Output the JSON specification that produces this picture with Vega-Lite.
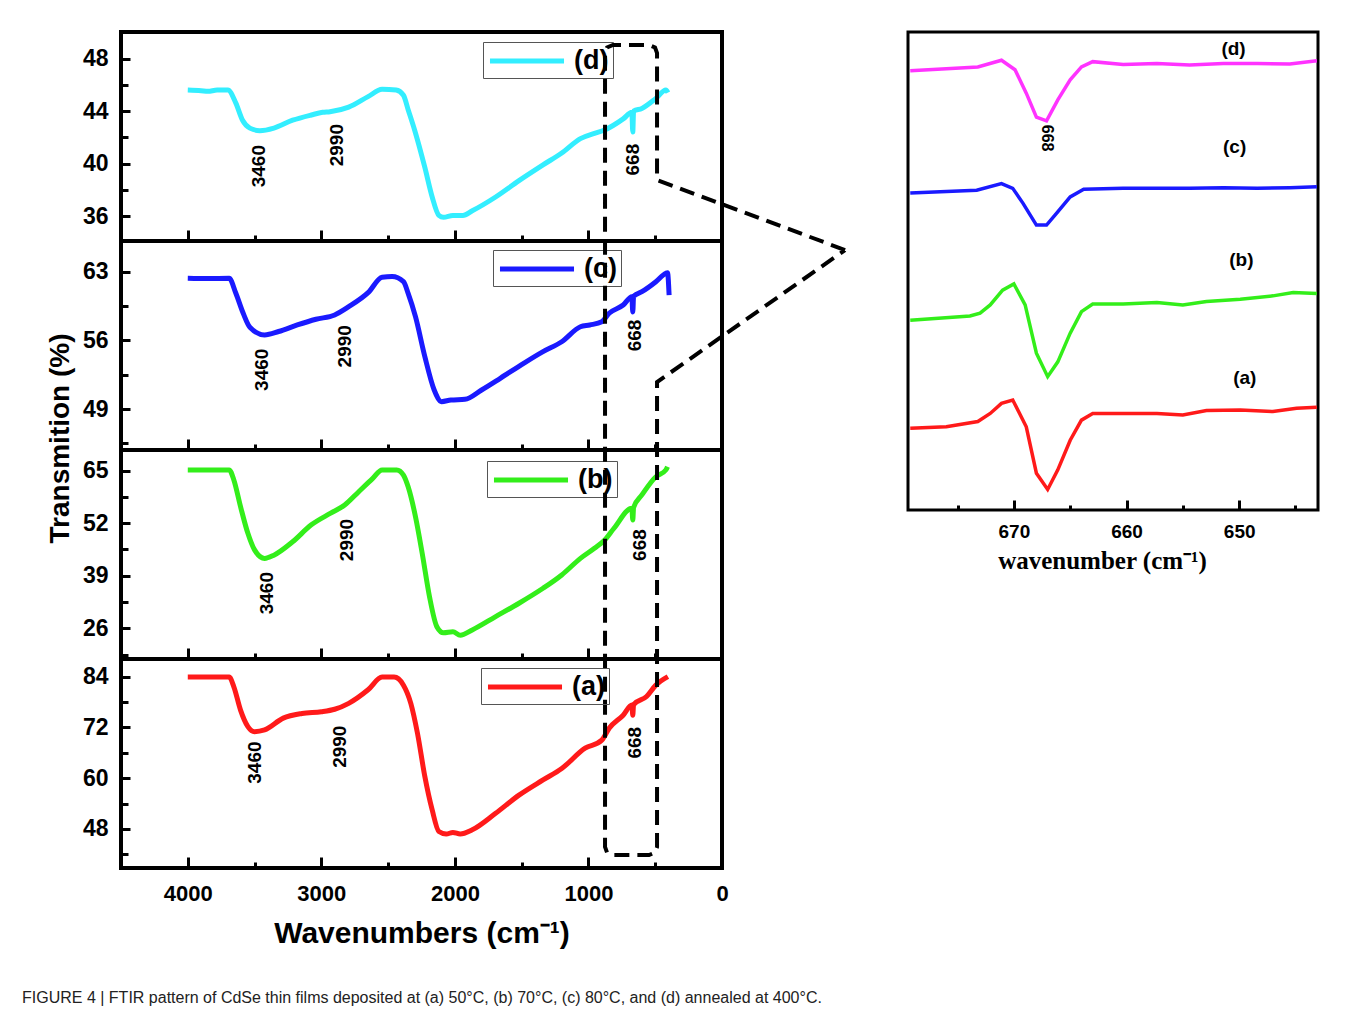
{
  "$schema": "https://vega.github.io/schema/vega-lite/v6.json",
  "background": "white",
  "padding": {"left": 22, "top": 30, "right": 20, "bottom": 10},
  "title": {"text": "FIGURE 4 | FTIR pattern of CdSe thin films deposited at (a) 50°C, (b) 70°C, (c) 80°C, and (d) annealed at 400°C.", "orient": "bottom", "anchor": "start", "frame": "bounds", "font": "Liberation Sans", "fontSize": 16, "fontWeight": "normal", "color": "#222", "offset": 40, "dx": -22},
  "datasets": {
    "d": [
      {"s":"(d)","w":4000,"t":45.6},{"s":"(d)","w":3900,"t":45.55},{"s":"(d)","w":3850,"t":45.5},{"s":"(d)","w":3780,"t":45.6},{"s":"(d)","w":3700,"t":45.6},{"s":"(d)","w":3640,"t":44.6},{"s":"(d)","w":3590,"t":43.3},{"s":"(d)","w":3535,"t":42.7},{"s":"(d)","w":3460,"t":42.5},{"s":"(d)","w":3355,"t":42.7},{"s":"(d)","w":3215,"t":43.3},{"s":"(d)","w":3075,"t":43.7},{"s":"(d)","w":2990,"t":43.9},{"s":"(d)","w":2935,"t":43.95},{"s":"(d)","w":2795,"t":44.3},{"s":"(d)","w":2650,"t":45.1},{"s":"(d)","w":2545,"t":45.65},{"s":"(d)","w":2440,"t":45.6},{"s":"(d)","w":2385,"t":45.2},{"s":"(d)","w":2350,"t":44.1},{"s":"(d)","w":2300,"t":42.5},{"s":"(d)","w":2225,"t":39.7},{"s":"(d)","w":2170,"t":37.45},{"s":"(d)","w":2120,"t":36.05},{"s":"(d)","w":2085,"t":35.9},{"s":"(d)","w":2015,"t":36.05},{"s":"(d)","w":1940,"t":36.05},{"s":"(d)","w":1870,"t":36.4},{"s":"(d)","w":1695,"t":37.45},{"s":"(d)","w":1520,"t":38.7},{"s":"(d)","w":1340,"t":39.9},{"s":"(d)","w":1200,"t":40.8},{"s":"(d)","w":1060,"t":41.9},{"s":"(d)","w":955,"t":42.3},{"s":"(d)","w":880,"t":42.55},{"s":"(d)","w":740,"t":43.4},{"s":"(d)","w":675,"t":43.9},{"s":"(d)","w":668,"t":42.4},{"s":"(d)","w":662,"t":44.0},{"s":"(d)","w":600,"t":44.2},{"s":"(d)","w":495,"t":44.96},{"s":"(d)","w":420,"t":45.6},{"s":"(d)","w":405,"t":45.4}
    ],
    "c": [
      {"s":"(c)","w":4000,"t":62.33},{"s":"(c)","w":3850,"t":62.3},{"s":"(c)","w":3690,"t":62.33},{"s":"(c)","w":3640,"t":60.8},{"s":"(c)","w":3585,"t":58.76},{"s":"(c)","w":3535,"t":57.33},{"s":"(c)","w":3425,"t":56.55},{"s":"(c)","w":3320,"t":56.9},{"s":"(c)","w":3180,"t":57.57},{"s":"(c)","w":3040,"t":58.15},{"s":"(c)","w":2900,"t":58.59},{"s":"(c)","w":2795,"t":59.43},{"s":"(c)","w":2650,"t":60.86},{"s":"(c)","w":2545,"t":62.43},{"s":"(c)","w":2470,"t":62.5},{"s":"(c)","w":2385,"t":61.98},{"s":"(c)","w":2350,"t":60.8},{"s":"(c)","w":2295,"t":58.41},{"s":"(c)","w":2225,"t":54.34},{"s":"(c)","w":2155,"t":50.94},{"s":"(c)","w":2100,"t":49.75},{"s":"(c)","w":2030,"t":49.92},{"s":"(c)","w":1925,"t":49.99},{"s":"(c)","w":1800,"t":50.94},{"s":"(c)","w":1660,"t":52.13},{"s":"(c)","w":1485,"t":53.66},{"s":"(c)","w":1340,"t":54.85},{"s":"(c)","w":1200,"t":55.86},{"s":"(c)","w":1060,"t":57.39},{"s":"(c)","w":990,"t":57.57},{"s":"(c)","w":900,"t":57.9},{"s":"(c)","w":845,"t":58.76},{"s":"(c)","w":740,"t":59.6},{"s":"(c)","w":675,"t":60.45},{"s":"(c)","w":668,"t":58.9},{"s":"(c)","w":662,"t":60.5},{"s":"(c)","w":600,"t":60.96},{"s":"(c)","w":495,"t":61.98},{"s":"(c)","w":420,"t":62.84},{"s":"(c)","w":408,"t":62.9},{"s":"(c)","w":396,"t":60.6}
    ],
    "b": [
      {"s":"(b)","w":4000,"t":65.2},{"s":"(b)","w":3850,"t":65.2},{"s":"(b)","w":3690,"t":65.2},{"s":"(b)","w":3655,"t":62.7},{"s":"(b)","w":3605,"t":56.1},{"s":"(b)","w":3550,"t":49.5},{"s":"(b)","w":3500,"t":45.4},{"s":"(b)","w":3425,"t":43.3},{"s":"(b)","w":3355,"t":44.1},{"s":"(b)","w":3215,"t":47.4},{"s":"(b)","w":3075,"t":51.6},{"s":"(b)","w":2930,"t":54.5},{"s":"(b)","w":2825,"t":56.5},{"s":"(b)","w":2720,"t":59.8},{"s":"(b)","w":2615,"t":63.1},{"s":"(b)","w":2545,"t":65.2},{"s":"(b)","w":2435,"t":65.2},{"s":"(b)","w":2385,"t":63.9},{"s":"(b)","w":2350,"t":61},{"s":"(b)","w":2295,"t":53.6},{"s":"(b)","w":2245,"t":44.6},{"s":"(b)","w":2190,"t":33.8},{"s":"(b)","w":2135,"t":26.4},{"s":"(b)","w":2085,"t":24.9},{"s":"(b)","w":2015,"t":25.15},{"s":"(b)","w":1960,"t":24.3},{"s":"(b)","w":1870,"t":25.6},{"s":"(b)","w":1695,"t":28.9},{"s":"(b)","w":1520,"t":32.2},{"s":"(b)","w":1340,"t":35.9},{"s":"(b)","w":1200,"t":39.2},{"s":"(b)","w":1060,"t":43.3},{"s":"(b)","w":955,"t":45.8},{"s":"(b)","w":880,"t":47.8},{"s":"(b)","w":810,"t":50.7},{"s":"(b)","w":675,"t":55.7},{"s":"(b)","w":668,"t":52.8},{"s":"(b)","w":662,"t":55.9},{"s":"(b)","w":600,"t":59},{"s":"(b)","w":495,"t":63.5},{"s":"(b)","w":420,"t":65.2},{"s":"(b)","w":408,"t":66}
    ],
    "a": [
      {"s":"(a)","w":4000,"t":83.9},{"s":"(a)","w":3850,"t":83.9},{"s":"(a)","w":3690,"t":83.9},{"s":"(a)","w":3655,"t":81.6},{"s":"(a)","w":3605,"t":76.1},{"s":"(a)","w":3550,"t":72.2},{"s":"(a)","w":3500,"t":71},{"s":"(a)","w":3425,"t":71.4},{"s":"(a)","w":3285,"t":74.2},{"s":"(a)","w":3145,"t":75.3},{"s":"(a)","w":3000,"t":75.7},{"s":"(a)","w":2900,"t":76.3},{"s":"(a)","w":2795,"t":77.7},{"s":"(a)","w":2650,"t":80.9},{"s":"(a)","w":2545,"t":83.9},{"s":"(a)","w":2455,"t":83.9},{"s":"(a)","w":2385,"t":82},{"s":"(a)","w":2330,"t":77.7},{"s":"(a)","w":2280,"t":70.6},{"s":"(a)","w":2225,"t":60.4},{"s":"(a)","w":2170,"t":52.5},{"s":"(a)","w":2120,"t":47.4},{"s":"(a)","w":2065,"t":46.8},{"s":"(a)","w":2015,"t":47.2},{"s":"(a)","w":1960,"t":46.8},{"s":"(a)","w":1870,"t":47.8},{"s":"(a)","w":1695,"t":51.7},{"s":"(a)","w":1520,"t":56},{"s":"(a)","w":1340,"t":59.6},{"s":"(a)","w":1200,"t":62.3},{"s":"(a)","w":1025,"t":67.1},{"s":"(a)","w":900,"t":69},{"s":"(a)","w":845,"t":71.8},{"s":"(a)","w":740,"t":74.9},{"s":"(a)","w":675,"t":77.3},{"s":"(a)","w":668,"t":74.9},{"s":"(a)","w":662,"t":77.4},{"s":"(a)","w":565,"t":79.3},{"s":"(a)","w":495,"t":82},{"s":"(a)","w":405,"t":84}
    ],
    "ann": [
      {"p":"d","txt":"3460","w":3469,"t":39.8},{"p":"d","txt":"2990","w":2879,"t":41.4},{"p":"d","txt":"668","w":670,"t":40.3},
      {"p":"c","txt":"3460","w":3444,"t":53.0},{"p":"c","txt":"2990","w":2826,"t":55.4},{"p":"c","txt":"668","w":652,"t":56.5},
      {"p":"b","txt":"3460","w":3409,"t":34.7},{"p":"b","txt":"2990","w":2808,"t":47.85},{"p":"b","txt":"668","w":617,"t":46.6},
      {"p":"a","txt":"3460","w":3498,"t":63.7},{"p":"a","txt":"2990","w":2861,"t":67.45},{"p":"a","txt":"668","w":652,"t":68.4}
    ],
    "box": [
      {"i":0,"w":-921.3,"t":184.85},{"i":1,"w":486.4,"t":201.4},{"i":2,"w":486.4,"t":231.42},{"i":3,"w":501.4,"t":232.71},{"i":4,"w":546.3,"t":233.31},{"i":5,"w":815.9,"t":233.31},{"i":6,"w":860.8,"t":232.71},{"i":7,"w":875.8,"t":231.42},{"i":8,"w":875.8,"t":43.74},{"i":9,"w":860.8,"t":42.44},{"i":10,"w":815.9,"t":41.85},{"i":11,"w":546.3,"t":41.85},{"i":12,"w":501.4,"t":42.44},{"i":13,"w":486.4,"t":43.74},{"i":14,"w":486.4,"t":153.65},{"i":15,"w":-921.3,"t":184.85}
    ],
    "inset": [
      {"s":"(d)","w":679.2,"v":91.9},{"s":"(d)","w":673.2,"v":92.7},{"s":"(d)","w":671.1,"v":94.1},{"s":"(d)","w":669.9,"v":92.1},{"s":"(d)","w":668.9,"v":87.2},{"s":"(d)","w":668.0,"v":82.2},{"s":"(d)","w":667.1,"v":81.4},{"s":"(d)","w":666.1,"v":85.8},{"s":"(d)","w":665.0,"v":90.0},{"s":"(d)","w":664.0,"v":92.7},{"s":"(d)","w":663.0,"v":93.8},{"s":"(d)","w":660.3,"v":93.2},{"s":"(d)","w":657.3,"v":93.4},{"s":"(d)","w":654.4,"v":93.1},{"s":"(d)","w":651.4,"v":93.4},{"s":"(d)","w":648.4,"v":93.4},{"s":"(d)","w":645.5,"v":93.3},{"s":"(d)","w":643.1,"v":94.0},
      {"s":"(c)","w":679.2,"v":66.3},{"s":"(c)","w":673.3,"v":66.9},{"s":"(c)","w":671.1,"v":68.3},{"s":"(c)","w":670.1,"v":67.3},{"s":"(c)","w":669.2,"v":64.2},{"s":"(c)","w":668.0,"v":59.6},{"s":"(c)","w":667.1,"v":59.6},{"s":"(c)","w":666.2,"v":62.1},{"s":"(c)","w":665.0,"v":65.5},{"s":"(c)","w":663.8,"v":67.1},{"s":"(c)","w":660.3,"v":67.3},{"s":"(c)","w":657.3,"v":67.3},{"s":"(c)","w":654.4,"v":67.3},{"s":"(c)","w":651.4,"v":67.4},{"s":"(c)","w":648.4,"v":67.3},{"s":"(c)","w":645.5,"v":67.4},{"s":"(c)","w":643.1,"v":67.6},
      {"s":"(b)","w":679.2,"v":39.7},{"s":"(b)","w":673.9,"v":40.6},{"s":"(b)","w":673.0,"v":41.2},{"s":"(b)","w":672.1,"v":42.9},{"s":"(b)","w":671.0,"v":46.0},{"s":"(b)","w":670.0,"v":47.3},{"s":"(b)","w":669.0,"v":42.9},{"s":"(b)","w":668.0,"v":32.8},{"s":"(b)","w":667.0,"v":27.9},{"s":"(b)","w":666.1,"v":31.0},{"s":"(b)","w":665.0,"v":37.0},{"s":"(b)","w":664.0,"v":41.5},{"s":"(b)","w":663.0,"v":43.1},{"s":"(b)","w":660.3,"v":43.1},{"s":"(b)","w":657.3,"v":43.4},{"s":"(b)","w":655.0,"v":42.9},{"s":"(b)","w":652.9,"v":43.6},{"s":"(b)","w":649.9,"v":44.1},{"s":"(b)","w":647.0,"v":44.8},{"s":"(b)","w":645.2,"v":45.5},{"s":"(b)","w":643.1,"v":45.3},
      {"s":"(a)","w":679.2,"v":17.1},{"s":"(a)","w":676.0,"v":17.4},{"s":"(a)","w":673.2,"v":18.5},{"s":"(a)","w":672.1,"v":20.2},{"s":"(a)","w":671.1,"v":22.3},{"s":"(a)","w":670.1,"v":23.0},{"s":"(a)","w":668.9,"v":17.4},{"s":"(a)","w":668.0,"v":7.7},{"s":"(a)","w":667.0,"v":4.3},{"s":"(a)","w":666.1,"v":8.4},{"s":"(a)","w":665.0,"v":14.6},{"s":"(a)","w":664.0,"v":18.8},{"s":"(a)","w":663.0,"v":20.2},{"s":"(a)","w":660.3,"v":20.2},{"s":"(a)","w":657.3,"v":20.2},{"s":"(a)","w":655.0,"v":19.9},{"s":"(a)","w":652.9,"v":20.8},{"s":"(a)","w":649.9,"v":20.9},{"s":"(a)","w":647.0,"v":20.6},{"s":"(a)","w":644.9,"v":21.3},{"s":"(a)","w":643.1,"v":21.5}
    ],
    "insetlab": [
      {"txt":"(d)","w":650.5,"v":96.4,"r":0},{"txt":"(c)","w":650.4,"v":75.9,"r":0},{"txt":"(b)","w":649.8,"v":52.3,"r":0},{"txt":"(a)","w":649.5,"v":27.6,"r":0},{"txt":"668","w":667.1,"v":77.8,"r":90}
    ]
  },
  "hconcat": [
    {
      "spacing": 0,
      "bounds": "flush",
      "resolve": {"scale": {"color": "independent"}, "legend": {"color": "independent"}},
      "vconcat": [
        {
          "width": 601, "height": 209,
          "layer": [
            {"data": {"name": "d"}, "mark": {"type": "line", "strokeWidth": 5, "interpolate": "monotone"},
             "encoding": {
               "x": {"field": "w", "type": "quantitative", "scale": {"domain": [4500, 0], "nice": false, "zero": false},
                     "axis": {"values": [4500,4000,3500,3000,2500,2000,1500,1000,500,0], "tickCount": 50, "labels": false, "title": null, "tickSize": {"condition": {"test": "datum.value % 1000 === 0", "value": -11}, "value": -6}, "tickWidth": 3}},
               "y": {"field": "t", "type": "quantitative", "scale": {"domain": [34.1, 50.02], "nice": false, "zero": false},
                     "axis": {"values": [36,38,40,42,44,46,48], "tickCount": 50, "format": "d", "labelExpr": "datum.value % 4 === 0 ? datum.label : ''", "labelOverlap": false, "labelPadding": 22, "labelFontSize": 23, "tickSize": {"condition": {"test": "datum.value % 4 === 0", "value": -9}, "value": -7}, "tickWidth": 3, "title": null}},
               "color": {"field": "s", "type": "nominal", "scale": {"domain": ["(d)"], "range": ["#33eeff"]},
                         "legend": {"orient": "none", "legendX": 362, "legendY": 10}}
             }},
            {"data": {"name": "ann"}, "transform": [{"filter": "datum.p === 'd'"}],
             "mark": {"type": "text", "angle": 270, "fontSize": 19, "fontWeight": "bold", "color": "black"},
             "encoding": {"x": {"field": "w", "type": "quantitative"}, "y": {"field": "t", "type": "quantitative"}, "text": {"field": "txt", "type": "nominal"}}}
          ]
        },
        {
          "width": 601, "height": 209,
          "layer": [
            {"data": {"name": "c"}, "mark": {"type": "line", "strokeWidth": 5, "interpolate": "monotone"},
             "encoding": {
               "x": {"field": "w", "type": "quantitative", "scale": {"domain": [4500, 0], "nice": false, "zero": false},
                     "axis": {"values": [4500,4000,3500,3000,2500,2000,1500,1000,500,0], "tickCount": 50, "labels": false, "title": null, "tickSize": {"condition": {"test": "datum.value % 1000 === 0", "value": -11}, "value": -6}, "tickWidth": 3}},
               "y": {"field": "t", "type": "quantitative", "scale": {"domain": [44.82, 66.13], "nice": false, "zero": false},
                     "axis": {"values": [45.5,49,52.5,56,59.5,63], "tickCount": 50, "format": "d", "labelExpr": "(datum.value - 49) % 7 === 0 ? datum.label : ''", "labelOverlap": false, "labelPadding": 22, "labelFontSize": 23, "tickSize": {"condition": {"test": "(datum.value - 49) % 7 === 0", "value": -9}, "value": -7}, "tickWidth": 3,
                              "title": "Transmition (%)", "titleFontSize": 28, "titleFontWeight": "bold", "titleX": -47, "titleY": 197}},
               "color": {"field": "s", "type": "nominal", "scale": {"domain": ["(c)"], "range": ["#1a1aff"]},
                         "legend": {"orient": "none", "legendX": 372, "legendY": 9}}
             }},
            {"data": {"name": "ann"}, "transform": [{"filter": "datum.p === 'c'"}],
             "mark": {"type": "text", "angle": 270, "fontSize": 19, "fontWeight": "bold", "color": "black"},
             "encoding": {"x": {"field": "w", "type": "quantitative"}, "y": {"field": "t", "type": "quantitative"}, "text": {"field": "txt", "type": "nominal"}}}
          ]
        },
        {
          "width": 601, "height": 209,
          "layer": [
            {"data": {"name": "b"}, "mark": {"type": "line", "strokeWidth": 5, "interpolate": "monotone"},
             "encoding": {
               "x": {"field": "w", "type": "quantitative", "scale": {"domain": [4500, 0], "nice": false, "zero": false},
                     "axis": {"values": [4500,4000,3500,3000,2500,2000,1500,1000,500,0], "tickCount": 50, "labels": false, "title": null, "tickSize": {"condition": {"test": "datum.value % 1000 === 0", "value": -11}, "value": -6}, "tickWidth": 3}},
               "y": {"field": "t", "type": "quantitative", "scale": {"domain": [18.4, 70.12], "nice": false, "zero": false},
                     "axis": {"values": [19.5,26,32.5,39,45.5,52,58.5,65], "tickCount": 50, "format": "d", "labelExpr": "(datum.value - 26) % 13 === 0 ? datum.label : ''", "labelOverlap": false, "labelPadding": 22, "labelFontSize": 23, "tickSize": {"condition": {"test": "(datum.value - 26) % 13 === 0", "value": -9}, "value": -7}, "tickWidth": 3, "title": null}},
               "color": {"field": "s", "type": "nominal", "scale": {"domain": ["(b)"], "range": ["#33ee1a"]},
                         "legend": {"orient": "none", "legendX": 366, "legendY": 11}}
             }},
            {"data": {"name": "ann"}, "transform": [{"filter": "datum.p === 'b'"}],
             "mark": {"type": "text", "angle": 270, "fontSize": 19, "fontWeight": "bold", "color": "black"},
             "encoding": {"x": {"field": "w", "type": "quantitative"}, "y": {"field": "t", "type": "quantitative"}, "text": {"field": "txt", "type": "nominal"}}}
          ]
        },
        {
          "width": 601, "height": 209,
          "layer": [
            {"data": {"name": "a"}, "mark": {"type": "line", "strokeWidth": 5, "interpolate": "monotone"},
             "encoding": {
               "x": {"field": "w", "type": "quantitative", "scale": {"domain": [4500, 0], "nice": false, "zero": false},
                     "axis": {"values": [4500,4000,3500,3000,2500,2000,1500,1000,500,0], "tickCount": 50, "format": "d", "labelExpr": "datum.value % 1000 === 0 ? datum.label : ''", "tickSize": {"condition": {"test": "datum.value % 1000 === 0", "value": -11}, "value": -6}, "tickWidth": 3,
                              "labelFontSize": 22, "labelFontWeight": "bold", "labelPadding": 26, "labelFlush": false, "labelOverlap": false,
                              "title": "Wavenumbers (cm⁻¹)", "titleFontSize": 30, "titleFontWeight": "bold", "titlePadding": 9}},
               "y": {"field": "t", "type": "quantitative", "scale": {"domain": [38.78, 88.18], "nice": false, "zero": false},
                     "axis": {"values": [42,48,54,60,66,72,78,84], "tickCount": 50, "format": "d", "labelExpr": "datum.value % 12 === 0 ? datum.label : ''", "labelOverlap": false, "labelPadding": 22, "labelFontSize": 23, "tickSize": {"condition": {"test": "datum.value % 12 === 0", "value": -9}, "value": -7}, "tickWidth": 3, "title": null}},
               "color": {"field": "s", "type": "nominal", "scale": {"domain": ["(a)"], "range": ["#ff1a1a"]},
                         "legend": {"orient": "none", "legendX": 360, "legendY": 9}}
             }},
            {"data": {"name": "ann"}, "transform": [{"filter": "datum.p === 'a'"}],
             "mark": {"type": "text", "angle": 270, "fontSize": 19, "fontWeight": "bold", "color": "black"},
             "encoding": {"x": {"field": "w", "type": "quantitative"}, "y": {"field": "t", "type": "quantitative"}, "text": {"field": "txt", "type": "nominal"}}},
            {"data": {"name": "box"},
             "mark": {"type": "line", "color": "black", "strokeWidth": 4, "strokeDash": [15, 8], "clip": false},
             "encoding": {"x": {"field": "w", "type": "quantitative"}, "y": {"field": "t", "type": "quantitative"}, "order": {"field": "i", "type": "quantitative"}}}
          ]
        }
      ]
    },
    {
      "width": 410, "height": 478,
      "view": {"stroke": "black", "strokeWidth": 3},
      "layer": [
        {"data": {"name": "inset"}, "mark": {"type": "line", "strokeWidth": 3.5},
         "encoding": {
           "x": {"field": "w", "type": "quantitative", "scale": {"domain": [679.4, 643], "nice": false, "zero": false},
                 "axis": {"values": [675,670,665,660,655,650,645], "tickCount": 50, "labelExpr": "datum.value % 10 === 0 ? datum.label : ''", "tickSize": {"condition": {"test": "datum.value % 10 === 0", "value": -10}, "value": -5}, "tickWidth": 3,
                          "labelFontSize": 19, "labelFontWeight": "bold", "labelPadding": 22, "labelFlush": false, "labelOverlap": false,
                          "title": "wavenumber (cm⁻¹)", "titleFont": "Liberation Serif", "titleFontSize": 25, "titleFontWeight": "bold", "titlePadding": 2, "titleX": 194}},
           "y": {"field": "v", "type": "quantitative", "scale": {"domain": [0, 100], "nice": false, "zero": false}, "axis": null},
           "color": {"field": "s", "type": "nominal", "scale": {"domain": ["(a)", "(b)", "(c)", "(d)"], "range": ["#ff1a1a", "#33ee1a", "#1a1aff", "#ff33ff"]}, "legend": null}
         }},
        {"data": {"name": "insetlab"}, "transform": [{"filter": "datum.r === 0"}],
         "mark": {"type": "text", "fontSize": 19, "fontWeight": "bold", "color": "black"},
         "encoding": {"x": {"field": "w", "type": "quantitative"}, "y": {"field": "v", "type": "quantitative"}, "text": {"field": "txt", "type": "nominal"}}},
        {"data": {"name": "insetlab"}, "transform": [{"filter": "datum.r === 90"}],
         "mark": {"type": "text", "angle": 90, "fontSize": 16, "fontWeight": "bold", "color": "black"},
         "encoding": {"x": {"field": "w", "type": "quantitative"}, "y": {"field": "v", "type": "quantitative"}, "text": {"field": "txt", "type": "nominal"}}}
      ]
    }
  ],
  "spacing": 787,
  "bounds": "flush",
  "resolve": {"scale": {"color": "independent"}, "legend": {"color": "independent"}},
  "config": {
    "font": "Liberation Sans",
    "view": {"stroke": "black", "strokeWidth": 4},
    "axis": {"grid": false, "domain": false, "tickColor": "black", "labelColor": "black", "titleColor": "black", "labelFont": "Liberation Sans", "labelFontSize": 21, "labelFontWeight": "bold", "labelPadding": 3, "labelFlush": false, "labelOverlap": false, "titleFont": "Liberation Sans"},
    "legend": {"title": null, "symbolType": "M-3,0H3", "symbolSize": 609, "symbolOffset": 25, "symbolStrokeWidth": 5, "labelFontSize": 27, "labelFontWeight": "bold", "labelColor": "black", "labelFont": "Liberation Sans", "strokeColor": "#555", "padding": 4, "labelOffset": 32}
  }
}
